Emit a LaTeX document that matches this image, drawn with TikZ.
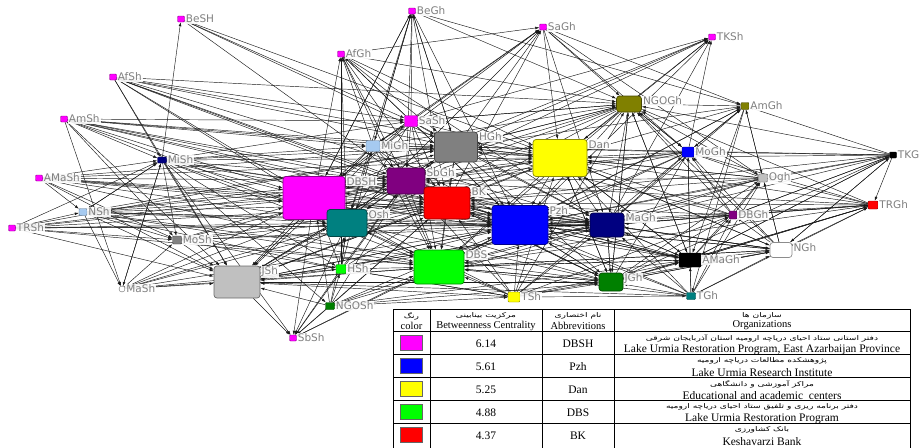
\documentclass[tikz,border=0pt]{standalone}
\usepackage{fontspec}
\setmainfont{Liberation Serif}
\newfontfamily\labfont{DejaVu Sans}
\newfontfamily\farsi[Script=Arabic,FakeStretch=1.4]{DejaVu Sans}
\TeXXeTstate=1
\usetikzlibrary{arrows.meta,backgrounds}

\definecolor{orgmagenta}{RGB}{255,0,255}
\definecolor{orgyellow}{RGB}{255,255,0}
\definecolor{orggreen}{RGB}{0,255,0}
\definecolor{orgblue}{RGB}{0,0,255}
\definecolor{orgred}{RGB}{255,0,0}
\definecolor{orgpurple}{HTML}{800080}
\definecolor{orgnavy}{HTML}{000080}
\definecolor{orgteal}{HTML}{008080}
\definecolor{orgolive}{HTML}{808000}
\definecolor{orgdkgreen}{HTML}{008000}
\definecolor{orglblue}{HTML}{A6CAF0}
\definecolor{orggray}{HTML}{808080}
\definecolor{orgsilver}{HTML}{C0C0C0}

\tikzset{org/.style={rectangle, draw=#1!55!black, fill=#1, inner sep=0pt, rounded corners=1pt, line width=0.4pt}}
\tikzset{box/.style={org=#1, rounded corners=3pt, line width=0.7pt}}
\tikzset{dot/.style={org=#1, minimum width=7, minimum height=6}}
\tikzset{lab/.style={text=black!50, fill=white, fill opacity=0.9, text opacity=1, inner sep=1pt, font=\labfont\fontsize{10.5}{10.5}\selectfont}}
\tikzset{tag/.style={label={[lab,anchor=north west]north east:#1}}}
\tikzset{side/.style={label={[lab]right:#1}}}
\tikzset{link/.style={draw=black!90, line width=0.45pt, -{Latex[length=4pt,width=2.8pt]}}}
\tikzset{swatch/.style={rectangle, draw=black!60, fill=#1, minimum width=22, minimum height=15, inner sep=0pt}}
\tikzset{fa/.style={font=\farsi\fontsize{6.5}{7}\selectfont, inner sep=0pt}}
\tikzset{en/.style={font=\fontsize{11.5}{12}\selectfont, inner sep=0pt}}

\begin{document}
\begin{tikzpicture}[x=1pt,y=-1pt]
\useasboundingbox (0,0) rectangle (923,447);

% outer organizations
\node[dot=orgmagenta, side=BeSH] (BeSH) at (181,19) {};
\node[dot=orgmagenta, side=BeGh] (BeGh) at (412,11) {};
\node[dot=orgmagenta, side=SaGh] (SaGh) at (543,27) {};
\node[dot=orgmagenta, side=TKSh] (TKSh) at (712,37) {};
\node[dot=orgmagenta, side=AfGh] (AfGh) at (341,54) {};
\node[dot=orgmagenta, side=AfSh] (AfSh) at (113,77) {};
\node[dot=orgmagenta, side=AmSh] (AmSh) at (64,119) {};
\node[dot=orgmagenta, side=AMaSh] (AMaSh) at (39,178) {};
\node[dot=orgmagenta, side=TRSh] (TRSh) at (12,228) {};
\node[dot=orgmagenta, side=SbSh] (SbSh) at (293,338) {};
\node[dot=orgolive, minimum width=8, minimum height=7, side=AmGh] (AmGh) at (745,106) {};
\node[dot=orgnavy, minimum width=9, side=MiSh] (MiSh) at (162,160) {};
\node[dot=black, side=TKG] (TKGh) at (893,155) {};
\node[dot=orgsilver, minimum width=9, minimum height=8, side=Ogh] (Ogh) at (763,178) {};
\node[dot=orgred, minimum width=10, minimum height=8, side=TRGh] (TRGh) at (873,205) {};
\node[dot=orglblue, minimum width=8, minimum height=7, side=NSh] (NSh) at (83,212) {};
\node[dot=orgpurple, minimum width=8, minimum height=8, side=DBGh] (DBGh) at (733,215) {};
\node[dot=orggray, minimum width=9, minimum height=8, side=MoSh] (MoSh) at (177,240) {};
\node[dot=orggreen, minimum width=10, minimum height=9, side=HSh] (HSh) at (341,269) {};
\node[circle, draw=black!60, fill=white, minimum size=6, inner sep=0pt, side=MaSh] (MaSh) at (122,289) {};
\node[dot=orgyellow, minimum width=12, minimum height=10, side=TSh] (TSh) at (514,297) {};
\node[dot=orgteal, minimum width=9, minimum height=7, side=TGh] (TGh) at (691,296) {};
\node[dot=orgdkgreen, minimum width=9, minimum height=7, side=NGOSh] (NGOSh) at (330,306) {};

% inner organizations
\node[dot=orgmagenta, minimum width=13, minimum height=11, side=SaSh] (SaSh) at (411,121) {};
\node[dot=orglblue, minimum width=14, minimum height=11, side=MiGh] (MiGh) at (373,146) {};
\node[dot=orgblue, minimum width=12, minimum height=10, side=MoGh] (MoGh) at (688,152) {};
\node[dot=black, minimum width=22, minimum height=14, side=AMaGh] (AMaGh) at (690,260) {};
\node[box=orgolive, minimum width=25, minimum height=16, tag=NGOGh] (NGOGh) at (629,104) {};
\node[box=orggray, minimum width=43, minimum height=30, tag=HGh] (HGh) at (456,147) {};
\node[box=orgyellow, minimum width=54, minimum height=37, tag=Dan] (Dan) at (560,158) {};
\node[box=orgpurple, minimum width=38, minimum height=26, tag=SbGh] (SbGh) at (406,181) {};
\node[box=orgmagenta, minimum width=62, minimum height=43, tag=DBSH] (DBSH) at (314,198) {};
\node[box=orgred, minimum width=46, minimum height=32, tag=BK] (BK) at (447,203) {};
\node[box=orgteal, minimum width=40, minimum height=27, tag=Osh] (Osh) at (347,223) {};
\node[box=orgblue, minimum width=56, minimum height=39, tag=Pzh] (Pzh) at (520,225) {};
\node[box=orgnavy, minimum width=34, minimum height=24, tag=MaGh] (MaGh) at (607,225) {};
\node[box=white, minimum width=22, minimum height=15, tag=NGh] (NGh) at (781,250) {};
\node[box=orgsilver, minimum width=46, minimum height=32, tag=JSh] (JSh) at (237,282) {};
\node[box=orggreen, minimum width=50, minimum height=34, tag=DBS] (DBS) at (439,267) {};
\node[box=orgdkgreen, minimum width=24, minimum height=18, tag=JGh] (JGh) at (611,282) {};

% ties
\begin{scope}[on background layer]
\foreach \src/\dsts in {
  BeSH/{SaSh,HGh,SbGh,Dan},
  BeGh/{MiGh,SbGh,BK,NGOGh,Osh,AmGh,DBSH,HGh,Pzh},
  SaGh/{NGOGh,MoGh,Dan,AmGh,Ogh,MaGh},
  AfGh/{HGh,Dan,BK,NGOGh,DBS,SaGh,Pzh,MaGh,SbGh},
  AfSh/{MiSh,DBSH,SaSh,HGh,Osh,Pzh,Dan,SbGh,JSh,BK,MaGh,NGOGh},
  AmSh/{MiSh,DBSH,HGh,SaSh,Osh,MoSh,JSh,SbGh,Dan,BK,MaSh,Pzh,MaGh,MiGh},
  AmGh/{NGOGh,Ogh,AMaGh,MoGh,TGh},
  MiSh/{BeSH,NSh,MoSh,MaSh,JSh,DBSH,Osh,HGh,SaSh,Dan,BK,SbSh,HSh,NGOSh,Pzh,MaGh,DBS,SbGh,MiGh},
  AMaSh/{DBSH,MiSh,HGh,Osh,JSh,MoSh,SbGh,Pzh,BK,Dan,DBS,MaGh,NSh},
  NSh/{DBSH,MiSh,Osh,JSh,MaSh,SbGh,BK,Dan,Pzh,HGh,DBS,MoSh,MaGh,JGh,HSh},
  TRSh/{NSh,MiSh,DBSH,Osh,JSh,MoSh,BK,Pzh,DBS,SbGh,HGh,MaGh},
  MoSh/{DBSH,JSh,Osh,BK,DBS,Pzh,HSh,SbGh,MaGh},
  MaSh/{JSh,DBSH,Osh,HSh,BK,DBS,Pzh,SbGh,MoSh,MiSh},
  NGOSh/{JSh,DBSH,Osh,HSh,DBS,Pzh,TSh,MaGh,JGh,BK,SbGh,SbSh,AMaGh},
  HSh/{DBSH,Osh,JSh,DBS,BK,SbGh,MiGh,Pzh,SbSh,AfGh,MaGh,TSh},
  TSh/{DBS,Pzh,BK,MaGh,JGh,DBSH,Osh,JSh,Dan,AMaGh,TGh,NGh,HSh,SbGh,NGOGh,DBGh,MoGh},
  TGh/{AMaGh,JGh,MaGh,Pzh,DBS,NGh,DBGh,Ogh,MoGh,Dan,BK,JSh,TRGh},
  JGh/{MaGh,Pzh,DBS,AMaGh,NGh,DBGh,Dan,BK,NGOGh,MoGh,TRGh,Ogh},
  AMaGh/{MoGh,MaGh,Pzh,DBGh,NGh,Ogh,Dan,NGOGh,DBS,TRGh,TKGh,BK,SbGh},
  NGh/{DBGh,Ogh,TRGh,MaGh,Pzh,MoGh,NGOGh,Dan,BK,AmGh,TKGh,DBS,JGh},
  DBGh/{MaGh,Pzh,Ogh,MoGh,NGOGh,Dan,TRGh,BK,DBS,TKGh,HGh},
  TRGh/{Ogh,MaGh,Pzh,DBGh,NGOGh,MoGh,Dan,JGh,AMaGh,BK,DBS,SbGh},
  TKGh/{TRGh,MoGh,Ogh,NGOGh,AmGh,MaGh,Pzh,Dan,DBGh,NGh,HGh,AMaGh,JGh,BK},
  Ogh/{MoGh,MaGh,Pzh,NGOGh,Dan,BK,DBS,HGh,SbGh},
  MoGh/{Dan,NGOGh,MaGh,Pzh,BK,HGh,AmGh,DBS,TKSh,SbGh,DBSH},
  NGOGh/{Dan,HGh,SaSh,MaGh,Pzh,BK,DBS,TKSh,MoGh,JGh,SbGh,DBSH,Osh,AMaGh},
  SaSh/{BeGh,MiGh,HGh,DBSH,SbGh,BK,Osh,Dan,Pzh,NGOGh,TKSh,MaGh,SaGh,AfGh,DBS,JSh},
  MiGh/{SaSh,DBSH,HGh,SbGh,Osh,BK,Dan,Pzh,DBS,NGOGh,SaGh,AfGh,BeGh,JSh},
  DBSH/{HGh,SbGh,BK,Osh,Pzh,Dan,DBS,JSh,MaGh,JGh,BeGh,SaGh,AfGh,SbSh,AMaGh,TKSh},
  HGh/{Dan,SbGh,BK,Pzh,MaGh,DBS,Osh,NGOGh,BeGh,SaGh,TKSh,AmGh,JGh,JSh},
  Dan/{Pzh,MaGh,BK,DBS,JGh,SbGh,NGh,TKSh,AmGh,Osh,AMaGh},
  SbGh/{BK,Osh,Pzh,DBS,MaGh,TKSh,SbSh,JSh,JGh},
  BK/{Pzh,DBS,Osh,MaGh,JGh,JSh,SaGh,SbSh,AMaGh},
  Osh/{DBS,JSh,Pzh,MaGh,HSh,AfGh,SaGh,SbSh,JGh},
  Pzh/{MaGh,DBS,JGh,AMaGh,NGh,TKSh,AmGh,SbSh,JSh},
  MaGh/{DBS,JGh,AMaGh,NGh,DBGh,TKSh,AmGh,JSh},
  DBS/{JSh,JGh,AMaGh,NGh,AmGh,SbSh},
  JSh/{Pzh,BK,HGh,Dan,MaGh,SbSh,JGh}}
  \foreach \dst in \dsts {\draw[link] (\src) -- (\dst);}
\end{scope}

% table
\draw[line width=0.6pt] (393,309) rectangle (910,470);
\foreach \yy in {331,354,377,400,423} {\draw[line width=0.5pt] (393,\yy) -- (910,\yy);}
\foreach \xx in {430,542,614} {\draw[line width=0.5pt] (\xx,309) -- (\xx,470);}

\node[fa] (hfa1) at (411.5,316) {\farsi\beginR رنگ\endR};
\node[en, font=\fontsize{10.5}{11}\selectfont] (hen1) at (411.5,325.5) {color};
\node[fa] (hfa2) at (486,316) {\farsi\beginR مرکزیت بینابینی\endR};
\node[en, font=\fontsize{10.5}{11}\selectfont] (hen2) at (486,325.5) {Betweenness Centrality};
\node[fa] (hfa3) at (578,316) {\farsi\beginR نام اختصاری\endR};
\node[en, font=\fontsize{10.5}{11}\selectfont] (hen3) at (578,325.5) {Abbrevitions};
\node[fa] (hfa4) at (762,316) {\farsi\beginR سازمان ها\endR};
\node[en, font=\fontsize{10.5}{11}\selectfont] (hen4) at (762,325.5) {Organizations};

\foreach \r/\col/\val/\abb/\faname/\enname in {
  1/orgmagenta/6.14/DBSH/{دفتر استانی ستاد احیای دریاچه ارومیه استان آذربایجان شرقی}/{Lake Urmia Restoration Program, East Azarbaijan Province},
  2/orgblue/5.61/Pzh/{پژوهشکده مطالعات دریاچه ارومیه}/{Lake Urmia Research Institute},
  3/orgyellow/5.25/Dan/{مراکز آموزشی و دانشگاهی}/{Educational and academic \ centers},
  4/orggreen/4.88/DBS/{دفتر برنامه ریزی و تلفیق ستاد احیای دریاچه ارومیه}/{Lake Urmia Restoration Program},
  5/orgred/4.37/BK/{بانک کشاورزی}/{Keshavarzi Bank}}
{
  \node[swatch=\col] (sw\r) at (411.5,{320+23*\r}) {};
  \node[en] (bc\r) at (486,{321+23*\r}) {\val};
  \node[en] (ab\r) at (578,{321+23*\r}) {\abb};
  \node[fa] (or\r) at (762,{315+23*\r}) {\farsi\beginR\faname\endR};
  \node[en] (nm\r) at (762,{327+23*\r}) {\enname};
}
\end{tikzpicture}
\end{document}
